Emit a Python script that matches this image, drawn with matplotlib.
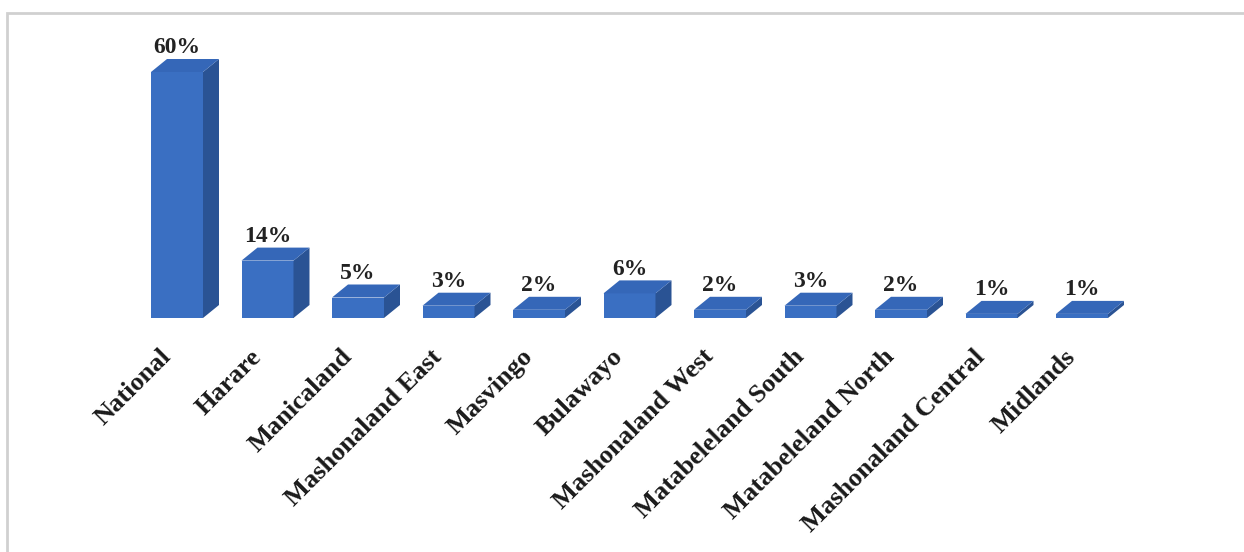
from matplotlib import pyplot as plt
from matplotlib.patches import Polygon, Rectangle

regions = ['National', 'Harare', 'Manicaland', 'Mashonaland East', 'Masvingo', 'Bulawayo',
           'Mashonaland West', 'Matabeleland South', 'Matabeleland North', 'Mashonaland Central', 'Midlands']
values = [60, 14, 5, 3, 2, 6, 2, 3, 2, 1, 1]
value_labels = ['60%', '14%', '5%', '3%', '2%', '6%', '2%', '3%', '2%', '1%', '1%']

front = '#3a6fc2'
top = '#3567b8'
side = '#2a5394'

W, H = 1244, 552
fig = plt.figure(figsize=(W / 100.0, H / 100.0), dpi=100)
ax = fig.add_axes([0, 0, 1, 1])
ax.axis('off')

# pixel layout: first bar centre at x=177, pitch 90.5 px, floor at y=318, 4.1 px per %
pitch = 90.5
ppu = 4.1
x0 = 177.0
floor = 318.0
ax.set_xlim(-x0 / pitch, (W - x0) / pitch)
ax.set_ylim(-(H - floor) / ppu, floor / ppu)

width = 52.0 / pitch
dx = 16.0 / pitch
dy = 13.0 / ppu

for i, v in enumerate(values):
    left = i - width / 2
    right = i + width / 2
    ax.add_patch(Rectangle((left, 0), width, v, facecolor=front, edgecolor='none'))
    ax.add_patch(Polygon([(right, 0), (right + dx, dy), (right + dx, v + dy), (right, v)],
                         closed=True, facecolor=side, edgecolor='none'))
    ax.add_patch(Polygon([(left, v), (right, v), (right + dx, v + dy), (left + dx, v + dy)],
                         closed=True, facecolor=top, edgecolor='none'))
    ax.text(i, v + dy + 0.2, value_labels[i], ha='center', va='bottom',
            fontsize=17, fontweight='bold', family='Liberation Serif', color='#222222')
    ax.text(i - 0.2, -6.6, regions[i], rotation=45, rotation_mode='anchor',
            ha='right', va='top', fontsize=19, fontweight='bold',
            family='Liberation Serif', color='#1a1a1a')

# chart frame
fig.patches.append(Rectangle((7.0 / W, -0.1), 1.2, 1.1 - 13.0 / H, transform=fig.transFigure,
                             facecolor='none', edgecolor='#d0d0d0', linewidth=2))

fig.savefig('out.png', dpi=100)
